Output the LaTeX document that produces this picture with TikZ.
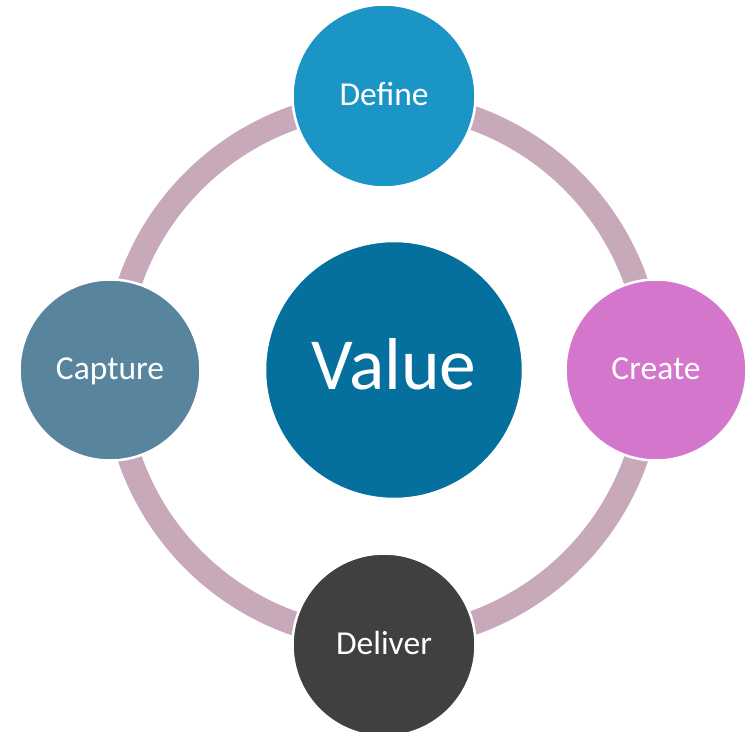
\documentclass[tikz,border=0pt]{standalone}
\usepackage{fontspec}
\setmainfont{Carlito}
\definecolor{ringc}{HTML}{C8A9B9}
\definecolor{defc}{HTML}{1B95C6}
\definecolor{crec}{HTML}{D476CC}
\definecolor{delc}{HTML}{404040}
\definecolor{capc}{HTML}{58849E}
\definecolor{valc}{HTML}{056F9E}
\begin{document}
\begin{tikzpicture}[x=1pt,y=-1pt,
  bub/.style={circle, draw=white, line width=2.5pt, inner sep=0pt,
    text=white, font=\fontsize{33.5}{40}\selectfont,
    text height=21.6pt, text depth=3.5pt, minimum size=#1},
  bigbub/.style={bub=#1, font=\fontsize{73.5}{82}\selectfont,
    text height=47.3pt, text depth=7.5pt},
  ringline/.style={ringc, line width=24pt}]
\useasboundingbox (0,0) rectangle (746,731);
\clip (0,0) rectangle (746,731);
\coordinate (c) at (383,370.5);
\draw[ringline] (c) circle[radius=268];
\node[bigbub=258, fill=valc] (value) at (394,370) {Value};
\node[bub=183, fill=defc] (define) at (384,96) {Define};
\node[bub=181, fill=crec] (create) at (656,370) {Create};
\node[bub=183, fill=delc] (deliver) at (384,645) {Deliver};
\node[bub=181, fill=capc] (capture) at (110,370) {Capture};
\end{tikzpicture}
\end{document}
